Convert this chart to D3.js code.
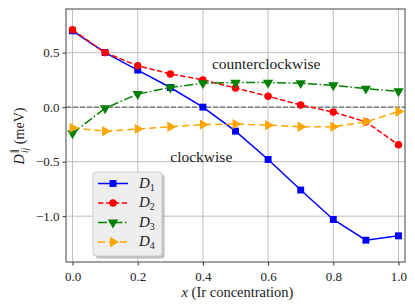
<!DOCTYPE html>
<html>
<head>
<meta charset="utf-8">
<script src="https://d3js.org/d3.v7.min.js"></script>
<style>
body { margin: 0; background: #fff; }
</style>
</head>
<body>
<script>
/* concentrations and the four couplings (meV) */
var conc = [0.0, 0.1, 0.2, 0.3, 0.4, 0.5, 0.6, 0.7, 0.8, 0.9, 1.0];
var d1 = [0.70, 0.50, 0.34, 0.18, 0.00, -0.22, -0.48, -0.76, -1.03, -1.22, -1.18];
var d2 = [0.71, 0.50, 0.38, 0.305, 0.25, 0.175, 0.10, 0.02, -0.045, -0.135, -0.345];
var d3v = [-0.24, -0.01, 0.12, 0.18, 0.22, 0.225, 0.225, 0.22, 0.20, 0.17, 0.145];
var d4 = [-0.19, -0.22, -0.20, -0.18, -0.16, -0.155, -0.165, -0.18, -0.18, -0.135, -0.04];
var xTicks = [0, 0.2, 0.4, 0.6, 0.8, 1.0];
var yTicks = [-1.0, -0.5, 0.0, 0.5];

var width = 415, height = 305;
var mLeft = 66, mRight = 405, mTop = 9, mBottom = 262;
var FONT = "'Liberation Serif', 'Times New Roman', 'DejaVu Serif', serif";

var svg = d3.select("body").append("svg")
    .attr("width", width)
    .attr("height", height);

var x = d3.scaleLinear().domain([-0.02, 1.02]).range([mLeft, mRight]);
var y = d3.scaleLinear().domain([-1.42, 0.9]).range([mBottom, mTop]);

// grid
svg.append("g").selectAll("line").data(xTicks).enter().append("line")
    .attr("x1", d => x(d)).attr("x2", d => x(d))
    .attr("y1", mTop).attr("y2", mBottom)
    .attr("stroke", "#b0b0b0").attr("stroke-width", 0.8);
svg.append("g").selectAll("line").data(yTicks).enter().append("line")
    .attr("x1", mLeft).attr("x2", mRight)
    .attr("y1", d => y(d)).attr("y2", d => y(d))
    .attr("stroke", "#b0b0b0").attr("stroke-width", 0.8);

// zero line
svg.append("line")
    .attr("x1", mLeft).attr("x2", mRight)
    .attr("y1", y(0)).attr("y2", y(0))
    .attr("stroke", "#808080").attr("stroke-width", 1.5)
    .attr("stroke-dasharray", "5,2");

var fmt = function(d) { return d3.format(".1f")(d).replace("-", "\u2212"); };

var xAxis = svg.append("g")
    .attr("transform", "translate(0," + mBottom + ")")
    .call(d3.axisBottom(x).tickValues(xTicks).tickFormat(fmt).tickSizeOuter(0).tickSize(3.5));
var yAxis = svg.append("g")
    .attr("transform", "translate(" + mLeft + ",0)")
    .call(d3.axisLeft(y).tickValues(yTicks).tickFormat(fmt).tickSizeOuter(0).tickSize(3.5));
[xAxis, yAxis].forEach(function(a) {
    a.attr("font-family", null).attr("font-size", null);
    a.select(".domain").remove();
    a.selectAll(".tick line").attr("stroke", "#333");
    a.selectAll(".tick text").style("font-size", "13px").attr("fill", "#222")
        .style("font-family", FONT);
});
xAxis.selectAll(".tick text").attr("dy", "0.95em");

var series = [
    { name: "1", values: d1, color: "#0000ff", dash: null, marker: "square" },
    { name: "2", values: d2, color: "#ff0000", dash: "5.5,2.4", marker: "circle" },
    { name: "3", values: d3v, color: "#008000", dash: "9,2.5,1.5,2.5", marker: "tridown" },
    { name: "4", values: d4, color: "#ffa500", dash: "7,4", marker: "triright" }
];

var symbols = {
    square: d3.symbol().type(d3.symbolSquare).size(48),
    circle: d3.symbol().type(d3.symbolCircle).size(44),
    tridown: d3.symbol().type(d3.symbolTriangle).size(46),
    triright: d3.symbol().type(d3.symbolTriangle).size(46)
};
var rot = { square: 0, circle: 0, tridown: 180, triright: 90 };

var line = d3.line().x((d, i) => x(conc[i])).y(d => y(d));

var plot = svg.append("g");
series.forEach(function(s) {
    plot.append("path")
        .attr("d", line(s.values))
        .attr("fill", "none")
        .attr("stroke", s.color)
        .attr("stroke-width", 1.5)
        .attr("stroke-dasharray", s.dash);
    plot.selectAll(null).data(s.values).enter().append("path")
        .attr("d", symbols[s.marker])
        .attr("transform", (d, i) => "translate(" + x(conc[i]) + "," + y(d) + ") rotate(" + rot[s.marker] + ")")
        .attr("fill", s.color);
});

// frame
svg.append("rect")
    .attr("x", mLeft).attr("y", mTop)
    .attr("width", mRight - mLeft).attr("height", mBottom - mTop)
    .attr("fill", "none").attr("stroke", "#444").attr("stroke-width", 1);

function label(sel) {
    return sel.style("font-family", FONT).attr("fill", "#222");
}

// annotations
label(svg.append("text")).attr("x", x(0.594)).attr("y", y(0.35))
    .attr("text-anchor", "middle").style("font-size", "15.5px").text("counterclockwise");
label(svg.append("text")).attr("x", x(0.395)).attr("y", y(-0.5))
    .attr("text-anchor", "middle").style("font-size", "15.5px").text("clockwise");

// axis labels
var xl = label(svg.append("text")).attr("x", (mLeft + mRight) / 2 + 2).attr("y", 297)
    .attr("text-anchor", "middle").style("font-size", "14.5px");
xl.append("tspan").attr("font-style", "italic").text("x");
xl.append("tspan").text(" (Ir concentration)");

var yl = label(svg.append("text"))
    .attr("transform", "translate(24,136) rotate(-90)")
    .attr("text-anchor", "middle").style("font-size", "14px");
yl.append("tspan").attr("font-style", "italic").text("D");
yl.append("tspan").style("font-size", "9.5px").attr("dy", -6).attr("dx", 1).text("\u2225");
yl.append("tspan").style("font-size", "9.5px").attr("font-style", "italic").attr("dy", 10).attr("dx", -4).text("ij");
yl.append("tspan").attr("dy", -4).text(" (meV)");

// legend
var lg = svg.append("g").attr("transform", "translate(93,172)");
lg.append("rect").attr("x", 2.5).attr("y", 2.5).attr("width", 69).attr("height", 84)
    .attr("rx", 3).attr("fill", "#888").attr("opacity", 0.55);
lg.append("rect").attr("width", 69).attr("height", 84).attr("rx", 3)
    .attr("fill", "#eeeeee").attr("stroke", "#cccccc").attr("stroke-width", 1);
series.forEach(function(s, i) {
    var yy = 11.5 + i * 19.5;
    lg.append("line").attr("x1", 5).attr("x2", 35).attr("y1", yy).attr("y2", yy)
        .attr("stroke", s.color).attr("stroke-width", 1.5).attr("stroke-dasharray", s.dash);
    lg.append("path").attr("d", symbols[s.marker])
        .attr("transform", "translate(20," + yy + ") rotate(" + rot[s.marker] + ")")
        .attr("fill", s.color);
    var t = label(lg.append("text")).attr("x", 46).attr("y", yy + 4).style("font-size", "15px");
    t.append("tspan").attr("font-style", "italic").text("D");
    t.append("tspan").style("font-size", "10px").attr("dy", 3).text(s.name);
});
</script>
</body>
</html>
